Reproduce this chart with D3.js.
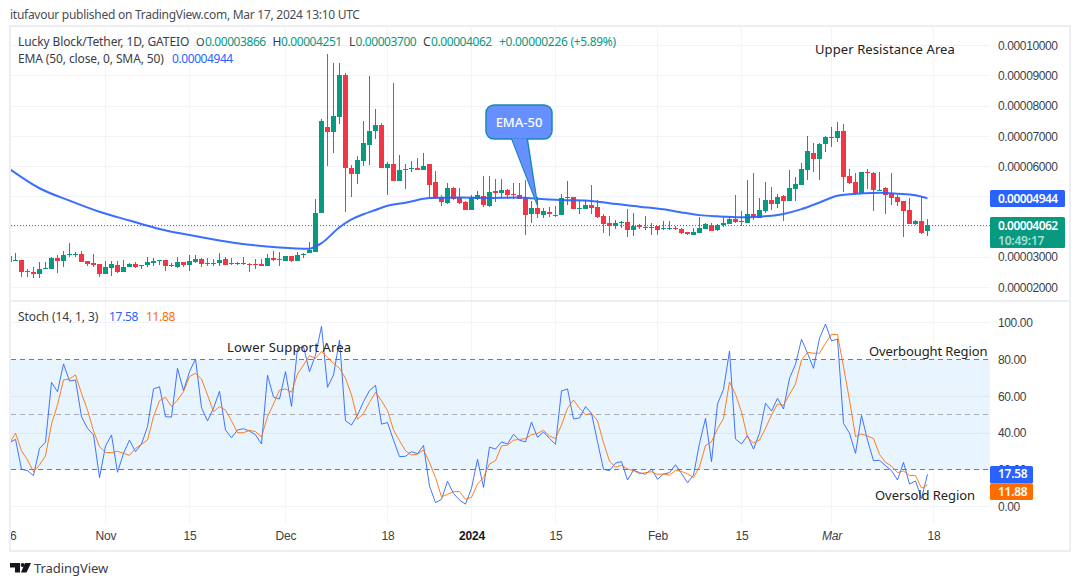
<!DOCTYPE html>
<html><head><meta charset="utf-8">
<script src="https://cdn.jsdelivr.net/npm/d3@7/dist/d3.min.js"></script>
<style>
html,body{margin:0;padding:0;background:#fff}
svg{display:block;font-family:"Noto Sans",sans-serif}
.axis text{font-size:12px;fill:#3c3f48;letter-spacing:-.38px}
</style></head><body><svg id="c" width="1080" height="586"></svg>
<script>
// Prices are in units of 0.00001 USDT
const opens=[3.04,2.88,2.91,2.53,2.51,2.44,2.62,2.62,2.97,2.87,3.08,3.08,3.10,2.86,2.80,2.77,2.45,2.65,2.73,2.52,
2.66,2.77,2.69,2.73,2.82,2.89,2.90,2.71,2.67,2.83,2.74,2.85,2.93,2.79,2.76,2.82,2.95,2.79,2.77,2.77,
2.77,2.77,2.77,2.71,2.96,2.95,2.88,3.03,2.88,3.08,3.12,3.18,4.47,7.30,7.15,7.63,9.03,5.95,5.76,6.18,
6.71,7.16,7.37,5.96,6.08,5.53,5.90,5.94,5.95,5.90,6.08,5.49,4.98,4.79,5.29,4.98,4.82,4.56,4.92,5.02,
4.69,5.19,5.13,5.22,5.09,5.05,4.96,4.43,4.63,4.39,4.49,4.39,4.39,4.96,4.99,4.60,4.59,4.73,4.66,4.36,
4.13,4.03,4.14,4.16,3.90,4.05,3.98,3.98,4.03,3.92,3.96,3.98,3.92,3.82,3.74,3.81,3.94,4.05,3.91,4.06,
4.10,4.26,4.20,4.13,4.43,4.31,4.53,4.89,4.76,5.02,4.86,5.25,5.39,5.88,6.45,6.25,6.74,6.97,6.94,7.18,
5.69,5.49,5.12,5.83,5.78,5.20,5.29,5.09,4.99,4.86,4.56,4.10,4.19,3.866];
const highs=[3.05,3.12,2.91,2.59,2.66,2.83,2.83,2.99,3.06,3.20,3.46,3.18,3.20,2.86,3.10,2.77,2.88,2.88,2.88,2.90,
2.79,2.83,2.74,3.01,2.96,2.92,2.92,2.82,2.99,2.85,3.07,3.07,2.97,2.96,2.93,3.12,2.99,2.96,2.84,2.99,
2.79,2.95,2.93,3.09,3.21,3.18,3.03,3.03,3.18,3.12,3.50,4.92,7.57,9.73,9.44,9.42,9.08,6.05,6.35,7.51,
8.99,7.90,7.44,6.16,8.76,6.38,6.07,6.18,6.29,6.45,6.08,5.85,5.05,5.45,5.32,5.28,4.87,5.05,5.19,5.69,
5.69,5.59,5.59,5.24,5.45,5.45,5.55,4.86,4.98,4.63,4.67,4.70,5.09,5.52,4.99,4.89,4.89,5.39,4.89,4.43,
4.36,4.23,4.18,4.59,4.46,4.10,4.36,4.13,4.03,4.19,4.19,4.03,3.95,3.84,3.95,4.33,4.13,4.13,4.10,4.33,
4.36,5.05,4.53,5.55,5.78,4.96,5.49,5.31,5.09,5.05,5.88,5.65,6.13,7.01,6.78,6.78,7.01,7.30,7.47,7.41,
5.92,5.78,5.82,5.92,5.82,5.82,5.32,5.78,5.05,4.86,4.96,4.23,5.02,4.251];
const lows=[2.84,2.88,2.33,2.35,2.30,2.32,2.62,2.62,2.46,2.68,2.99,2.99,2.85,2.70,2.68,2.35,2.45,2.38,2.46,2.52,
2.66,2.64,2.62,2.66,2.70,2.74,2.55,2.68,2.64,2.68,2.55,2.82,2.66,2.70,2.70,2.70,2.75,2.75,2.73,2.75,
2.52,2.60,2.71,2.71,2.88,2.70,2.88,2.83,2.88,2.96,3.12,3.18,4.47,6.03,6.46,7.41,4.50,5.00,5.43,6.03,
6.05,6.91,5.96,5.07,5.53,5.53,5.25,5.82,5.88,5.88,5.00,4.96,4.70,4.76,4.89,4.76,4.56,4.56,4.89,4.66,
4.67,4.84,4.95,4.93,4.92,4.92,3.73,4.13,4.29,4.29,4.34,4.33,4.38,4.73,4.59,4.43,4.59,4.43,4.29,3.80,
3.70,3.93,3.96,3.67,3.70,3.93,3.90,3.73,3.73,3.90,3.90,3.90,3.78,3.74,3.74,3.81,3.93,3.88,3.88,4.00,
4.10,4.13,4.03,4.13,4.23,4.31,4.46,4.56,4.63,4.21,4.86,4.86,5.39,5.55,5.82,5.55,6.48,6.65,6.81,5.16,
5.42,5.05,5.12,5.24,4.53,5.19,4.43,4.73,4.69,3.67,4.10,4.06,3.76,3.700];
const closes=[2.85,2.90,2.52,2.51,2.44,2.61,2.64,2.97,2.88,3.06,3.10,3.10,2.85,2.78,2.74,2.44,2.67,2.77,2.52,2.66,
2.77,2.66,2.73,2.84,2.87,2.91,2.71,2.73,2.84,2.74,2.87,2.94,2.78,2.77,2.79,2.90,2.75,2.77,2.79,2.79,
2.75,2.75,2.71,2.97,2.91,2.93,3.03,2.87,3.08,3.10,3.24,4.46,7.51,7.15,7.67,9.03,5.96,5.76,6.22,6.78,
7.18,7.37,5.96,6.08,5.53,5.88,5.92,5.96,5.90,6.02,5.40,4.96,4.84,5.29,4.92,4.80,4.56,4.96,5.05,4.73,
5.16,5.13,5.22,5.05,5.05,4.92,4.39,4.63,4.43,4.53,4.43,4.36,4.96,4.98,4.59,4.62,4.73,4.63,4.33,4.10,
4.03,4.13,4.16,3.90,4.03,4.01,4.00,4.00,3.90,3.96,3.98,3.96,3.81,3.75,3.83,3.95,4.08,3.88,4.05,4.13,
4.26,4.17,4.18,4.43,4.32,4.56,4.89,4.76,4.99,4.86,5.29,5.42,5.92,6.51,6.25,6.74,6.98,6.99,7.18,5.65,
5.45,5.12,5.82,5.81,5.23,5.23,5.05,4.96,4.82,4.53,4.10,4.19,3.80,4.062];
const emaDays=[0,5,10,15,20,25,30,35,40,45,50,51,52,55,57,59,61,63,66,69,70,75,80,85,88,92,97,100,105,110,112,115,118,122,125,129,132,135,138,140,145,148,151,153];
const emaValues=[5.92,5.28,4.87,4.50,4.21,3.93,3.73,3.55,3.41,3.32,3.28,3.35,3.46,3.99,4.25,4.42,4.56,4.70,4.80,4.93,4.96,4.97,4.96,4.97,4.93,4.89,4.86,4.78,4.67,4.55,4.48,4.39,4.35,4.32,4.34,4.43,4.59,4.81,5.03,5.08,5.13,5.10,5.05,4.944];
const stochK=[34.8,36.6,20.3,19.6,16.9,31.7,35.0,67.6,62.5,77.6,68.3,68.9,48.9,42.6,39.0,15.8,33.0,39.0,18.7,29.0,
36.2,29.9,34.1,43.5,64.0,65.2,48.9,48.7,75.2,63.1,73.4,80.3,53.8,46.6,53.5,62.7,41.7,37.5,41.7,42.4,
41.1,39.1,34.1,71.4,59.6,58.5,73.4,54.5,86.1,87.0,73.4,82.4,98.0,64.9,71.6,90.6,46.7,44.4,49.8,57.1,
63.1,66.0,44.9,45.7,36.2,27.2,27.4,29.9,28.8,33.3,11.2,2.2,4.0,13.8,7.2,3.6,1.4,10.0,25.7,10.5,
32.4,31.3,35.2,34.1,39.3,36.1,35.2,46.0,37.7,40.6,37.1,33.9,62.9,64.0,47.7,48.2,54.4,50.7,35.3,20.3,
19.6,23.7,24.5,14.5,19.9,18.5,17.6,20.5,14.9,17.8,18.5,22.8,18.1,13.0,17.2,34.4,48.0,24.5,55.8,63.8,
84.6,36.8,34.1,38.6,31.3,39.9,56.2,52.0,58.9,53.1,69.8,77.4,91.0,83.4,75.2,91.5,99.3,90.1,91.1,45.3,
39.9,29.0,49.6,36.2,25.0,25.2,22.3,19.6,14.5,24.1,12.3,14.0,4.5,17.58];
const stochD=[34.4,39.9,30.4,25.4,19.0,22.7,27.7,44.9,55.3,68.9,69.4,71.6,61.6,52.5,41.3,32.6,29.4,29.4,30.1,29.0,
27.9,31.7,33.9,36.2,48.9,57.6,59.4,54.4,58.0,62.5,70.7,72.5,69.4,60.7,51.6,54.4,52.5,46.7,40.2,40.2,
41.5,40.8,37.9,48.9,55.8,63.4,64.0,62.2,72.1,77.0,82.1,80.6,84.3,81.2,77.9,75.2,69.8,60.7,47.5,50.7,
56.7,62.2,57.6,52.2,41.7,35.9,30.4,28.1,28.6,30.8,24.1,15.8,5.4,6.7,8.2,8.2,4.0,5.1,12.3,15.8,
23.2,25.0,33.0,33.5,36.1,36.6,37.0,39.1,39.9,41.5,38.4,37.0,44.4,53.5,58.0,53.5,50.0,50.7,46.7,34.8,
24.8,21.4,22.5,20.5,19.6,17.9,18.5,19.0,17.6,17.8,17.2,19.8,19.2,17.8,15.9,21.7,33.2,35.3,42.2,48.0,
67.8,61.1,51.5,37.7,34.6,36.2,42.6,49.8,55.8,55.1,61.1,66.7,79.7,83.9,83.4,83.4,88.8,93.7,93.5,76.1,
58.0,38.1,39.5,38.4,37.0,28.4,24.1,22.1,18.5,19.4,17.0,16.9,10.1,11.88];
const priceTicks=[2,3,4,5,6,7,8,9,10];
const priceLabelTicks=[2,3,6,7,8,9,10]; // 4 and 5 sit behind the last-value tags
const stochTicks=[0,20,40,60,80,100];
const timeTickDays=[0,16,30,46,63,77,91,108,122,137,154];
const timeTickLabels=["16","Nov","15","Dec","18","2024","15","Feb","15","Mar","18"];
const lastClose=4.062, lastEma=4.944, lastK=17.58, lastD=11.88;

const GREEN="#089981",RED="#f23645",BLUE="#2962ff",ORANGE="#ff6d00",GRID="#f0f3fa",FRAME="#eceef3",INK="#3a3d46";
const svg=d3.select("#c");
const L=11,R=990,plotTop=27,sep=301,bottom=523;
const x=d3.scaleLinear().domain([0,153]).range([9.5,927.5]);
const y=d3.scaleLinear().domain([2,10]).range([287.3,45.7]);
const ys=d3.scaleLinear().domain([0,100]).range([506.7,322.7]);
const crisp=s=>s.attr("shape-rendering","crispEdges");
const defs=svg.append("defs");
defs.append("clipPath").attr("id","plot").append("rect").attr("x",L).attr("y",plotTop).attr("width",R-L).attr("height",bottom-plotTop);
defs.append("clipPath").attr("id","axisClip").append("rect").attr("x",L-.5).attr("y",bottom).attr("width",R-L).attr("height",27);

// stochastic band, then grids
svg.append("rect").attr("x",L).attr("width",R-L).attr("y",ys(80)).attr("height",ys(20)-ys(80)).attr("fill","#2196f3").attr("fill-opacity",.1);
const grid=crisp(svg.append("g").attr("stroke",GRID).attr("stroke-width",1));
[[plotTop,sep],[sep,bottom]].forEach(([a,b])=>{
  grid.selectAll(null).data(timeTickDays.slice(1)).enter().append("line")
    .attr("x1",d=>x(d)).attr("x2",d=>x(d)).attr("y1",a).attr("y2",b).attr("stroke-opacity",.9);
});
grid.selectAll(null).data(priceTicks).enter().append("line").attr("x1",L).attr("x2",R).attr("y1",d=>y(d)).attr("y2",d=>y(d));
grid.selectAll(null).data(stochTicks.filter(d=>d!==20&&d!==80)).enter().append("line").attr("x1",L).attr("x2",R).attr("y1",d=>ys(d)).attr("y2",d=>ys(d)).attr("stroke",d=>d>0&&d<100?"#dfe6ee":GRID);
[[80,"#787b86"],[20,"#787b86"],[50,"#a9acb4"]].forEach(([v,c])=>{
  crisp(svg.append("line").attr("x1",L).attr("x2",R).attr("y1",ys(v)).attr("y2",ys(v)).attr("stroke",c).attr("stroke-width",1).attr("stroke-dasharray","5 4"));
});

// price pane
const pane=svg.append("g").attr("clip-path","url(#plot)");
crisp(pane.append("line").attr("x1",L).attr("x2",R).attr("y1",y(lastClose)).attr("y2",y(lastClose)).attr("stroke",GREEN).attr("stroke-dasharray","1 2"));
const idx=d3.range(opens.length);
const col=i=>closes[i]>=opens[i]?GREEN:RED;
crisp(pane.selectAll("line.w").data(idx).enter().append("line").attr("class","w")
  .attr("x1",i=>x(i)).attr("x2",i=>x(i)).attr("y1",i=>y(highs[i])).attr("y2",i=>y(lows[i])).attr("stroke",col).attr("stroke-width",1));
crisp(pane.selectAll("rect.b").data(idx).enter().append("rect").attr("class","b")
  .attr("x",i=>x(i)-2.5).attr("width",5)
  .attr("y",i=>y(Math.max(opens[i],closes[i])))
  .attr("height",i=>Math.max(1,Math.abs(y(opens[i])-y(closes[i]))))
  .attr("fill",col));
pane.append("path").datum(emaDays.map((d,k)=>[d,emaValues[k]]))
  .attr("fill","none").attr("stroke",BLUE).attr("stroke-width",2).attr("stroke-opacity",.92)
  .attr("d",d3.line().x(d=>x(d[0])).y(d=>y(d[1])).curve(d3.curveMonotoneX));

// stochastic pane
const sp=svg.append("g").attr("clip-path","url(#plot)");
[[stochK,BLUE],[stochD,ORANGE]].forEach(([s,c])=>{
  sp.append("path").datum(s).attr("fill","none").attr("stroke",c).attr("stroke-width",1).attr("stroke-opacity",.88)
    .attr("d",d3.line().x((d,i)=>x(i)).y(d=>ys(d)));
});

// axes
const priceFmt=d=>"0."+String(Math.round(d*1000)).padStart(8,"0");
const ax1=svg.append("g").attr("class","axis").attr("transform",`translate(${R},0)`)
  .call(d3.axisRight(y).tickValues(priceLabelTicks).tickSize(0).tickPadding(8).tickFormat(priceFmt));
ax1.select(".domain").remove();
const ax2=svg.append("g").attr("class","axis").attr("transform",`translate(${R},0)`)
  .call(d3.axisRight(ys).tickValues(stochTicks).tickSize(0).tickPadding(8).tickFormat(d3.format(".2f")));
ax2.select(".domain").remove();
const axG=svg.append("g").attr("clip-path","url(#axisClip)");
const ax3=axG.append("g").attr("class","axis").attr("transform",`translate(0,${bottom+5})`)
  .call(d3.axisBottom(x).tickValues(timeTickDays).tickSize(0).tickPadding(3).tickFormat((d,i)=>timeTickLabels[i]));
ax3.select(".domain").remove();
ax3.selectAll("text").attr("font-weight",(d,i)=>timeTickLabels[i]==="2024"?700:400).style("fill",(d,i)=>timeTickLabels[i]==="2024"?"#131722":null)
  .style("font-style",(d,i)=>timeTickLabels[i]==="Mar"?"italic":null).style("letter-spacing","-.15px");

// price tags
function tag(x0,w,yc,h,fill){svg.append("rect").attr("x",x0).attr("y",yc).attr("width",w).attr("height",h).attr("fill",fill).attr("rx",1.5);}
const T=(tx,ty,s,o={})=>svg.append("text").attr("x",tx).attr("y",ty).text(s)
  .attr("font-size",o.size||12).attr("fill",o.fill||INK).attr("font-weight",o.w||400).attr("text-anchor",o.a||"start")
  .style("letter-spacing",o.ls||null);
tag(R,75,y(lastEma)-8.5,17,BLUE);
T(998,y(lastEma)+4.5,priceFmt(lastEma),{fill:"#fff",w:600,ls:"-.55px"});
tag(R,75,y(lastClose)-8,31,GREEN);
T(998,y(lastClose)+4.5,priceFmt(lastClose),{fill:"#fff",w:600,ls:"-.55px"});
T(998,y(lastClose)+20,"10:49:17",{fill:"#a9e0d6",w:600,ls:"-.2px"});
tag(R,43,ys(lastK)-8.3,17.3,BLUE);
T(998,ys(lastK)+4,lastK.toFixed(2),{fill:"#fff",w:600,ls:"-.3px"});
tag(R,43,ys(lastK)+9,16.7,ORANGE);
T(998,ys(lastK)+21.5,lastD.toFixed(2),{fill:"#fff",w:600,ls:"-.3px"});

// frame
const fr=svg.append("g").attr("fill","none").attr("stroke",FRAME).attr("stroke-width",2);
fr.append("rect").attr("x",10).attr("y",26).attr("width",1060).attr("height",525);
fr.append("line").attr("x1",10).attr("x2",1070).attr("y1",sep).attr("y2",sep);

// header texts
T(10,19,"itufavour published on TradingView.com, Mar 17, 2024 13:10 UTC",{fill:"#4a4d55",ls:"-.27px"});
const N={ls:"-.42px",fill:GREEN}, K={ls:"-.1px"}, Oo={size:11,ls:"-.1px"};
T(18,46,"Lucky Block/Tether, 1D, GATEIO",K);
T(196,46,"O",Oo);T(205,46,"0.00003866",N);
T(272.5,46,"H",K);T(281,46,"0.00004251",N);
T(349,46,"L",K);T(355.5,46,"0.00003700",N);
T(423,46,"C",K);T(431,46,"0.00004062",N);
T(499,46,"+0.00000226 (+5.89%)",{fill:GREEN,ls:"-.3px"});
T(18,63,"EMA (50, close, 0, SMA, 50)",{ls:"-.12px"});
T(172,63,priceFmt(lastEma),{fill:BLUE,ls:"-.42px"});
T(18,321,"Stoch (14, 1, 3)",K);
T(109,321,lastK.toFixed(2),{fill:BLUE,ls:"-.3px"});
T(146,321,lastD.toFixed(2),{fill:ORANGE,ls:"-.3px"});

// annotations
T(815,54,"Upper Resistance Area",{size:13,fill:"#222",ls:".1px"});
T(227,352,"Lower Support Area",{size:13,fill:"#222",ls:".17px"});
T(869,356,"Overbought Region",{size:13,fill:"#222",ls:"-.1px"});
T(875,500,"Oversold Region",{size:13,fill:"#222",ls:"-.06px"});

// callout, its tip anchored on the EMA through the scales
const tipX=x(88),tipY=y(4.72);
const cl=svg.append("g");
cl.append("path").attr("d",`M511,137L${tipX},${tipY}L527,137Z`).attr("fill","#6690ff").attr("stroke","#1b86b8").attr("stroke-width",1.5);
cl.append("rect").attr("x",486).attr("y",105).attr("width",66).attr("height",34).attr("rx",8).attr("fill","#6690ff").attr("stroke","#1b86b8").attr("stroke-width",1.5);
cl.append("path").attr("d",`M512,138.5L${tipX-.8},${tipY-3}L526,138.5Z`).attr("fill","#6690ff");
cl.append("text").attr("x",519).attr("y",126.5).attr("text-anchor","middle").attr("font-size",13).attr("fill","#fff").attr("font-weight",500).text("EMA-50");

// footer
const lg=svg.append("g").attr("fill","#14161b");
lg.append("path").attr("d","M10,563h10v9.5h-5v-5h-5Z");
lg.append("circle").attr("cx",22.6).attr("cy",565).attr("r",1.9);
lg.append("path").attr("d","M25,563h6l-4.5,9.5h-5.6Z");
T(34,573,"TradingView",{size:13,fill:"#3b3e47",ls:"-.05px"});
</script></body></html>
